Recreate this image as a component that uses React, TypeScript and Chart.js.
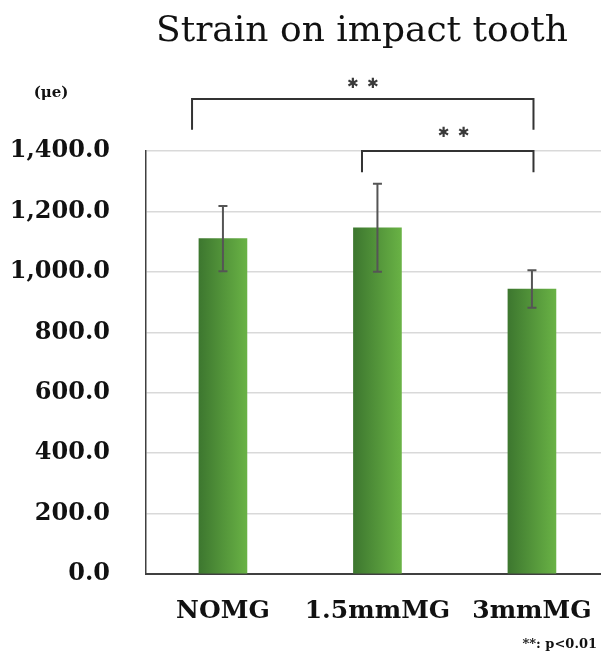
import { useEffect, useRef } from "react";
import { Chart, registerables } from "chart.js";

Chart.register(...registerables);

const categories = ["NOMG", "1.5mmMG", "3mmMG"];
const means = [1110, 1146, 943];
const errors = [108, 146, 62];
const yMin = 0;
const yMax = 1400;
const yStep = 200;
const titleText = "Strain on impact tooth";
const unitText = "(μe)";
const footnoteText = "**: p<0.01";

const SERIF = "'DejaVu Serif', 'Liberation Serif', serif";

const overlayPlugin = {
  id: "overlay",
  beforeDatasetsDraw(chart: any) {
    const { ctx } = chart;
    const meta = chart.getDatasetMeta(0);
    meta.data.forEach((el: any) => {
      const half = (el.width || 48) / 2;
      if (!isFinite(el.x)) return;
      const g = ctx.createLinearGradient(el.x - half, 0, el.x + half, 0);
      g.addColorStop(0, "#3d772f");
      g.addColorStop(1, "#69b245");
      el.options = { ...el.options, backgroundColor: g };
    });
  },
  afterDatasetsDraw(chart: any) {
    const { ctx } = chart;
    const xs = chart.scales.x;
    const ys = chart.scales.y;
    ctx.save();
    ctx.strokeStyle = "#555555";
    ctx.lineWidth = 2;
    means.forEach((m, i) => {
      const x = xs.getPixelForValue(i);
      const top = ys.getPixelForValue(m + errors[i]);
      const bot = ys.getPixelForValue(m - errors[i]);
      ctx.beginPath();
      ctx.moveTo(x, top);
      ctx.lineTo(x, bot);
      ctx.moveTo(x - 4.5, top);
      ctx.lineTo(x + 4.5, top);
      ctx.moveTo(x - 4.5, bot);
      ctx.lineTo(x + 4.5, bot);
      ctx.stroke();
    });
    ctx.restore();
  },
  afterDraw(chart: any) {
    const { ctx } = chart;
    const xs = chart.scales.x;
    const ys = chart.scales.y;
    ctx.save();
    // title
    ctx.fillStyle = "#111111";
    ctx.font = `36px ${SERIF}`;
    ctx.textAlign = "center";
    ctx.textBaseline = "alphabetic";
    ctx.fillText(titleText, 362, 41);
    // unit
    ctx.font = `bold 15px ${SERIF}`;
    ctx.textAlign = "center";
    ctx.textBaseline = "middle";
    ctx.fillText(unitText, 51, 93);
    // footnote
    ctx.font = `bold 13px ${SERIF}`;
    ctx.textAlign = "right";
    ctx.fillText(footnoteText, 597, 645);

    // significance brackets
    const brackets = [
      { from: -0.2, to: 2.01, top: 1572, leg: 1470, star: 1622 },
      { from: 0.9, to: 2.01, top: 1400, leg: 1330, star: 1460 },
    ];
    ctx.strokeStyle = "#333333";
    ctx.lineWidth = 2;
    brackets.forEach((b) => {
      const x1 = xs.getPixelForValue(b.from);
      const x2 = xs.getPixelForValue(b.to);
      const yt = ys.getPixelForValue(b.top);
      const yl = ys.getPixelForValue(b.leg);
      ctx.beginPath();
      ctx.moveTo(x1, yl);
      ctx.lineTo(x1, yt);
      ctx.lineTo(x2, yt);
      ctx.lineTo(x2, yl);
      ctx.stroke();
      const cx = (x1 + x2) / 2 + (b.from > 0 ? 6 : 0);
      const sy = ys.getPixelForValue(b.star);
      ctx.fillStyle = "#3a3a3a";
      ctx.font = "14px 'DejaVu Sans', sans-serif";
      ctx.textAlign = "center";
      ctx.textBaseline = "middle";
      ctx.fillText("✱", cx - 10, sy);
      ctx.fillText("✱", cx + 10, sy);
    });
    ctx.restore();
  },
};

export default function App() {
  const ref = useRef<HTMLCanvasElement | null>(null);

  useEffect(() => {
    if (!ref.current) return;
    const chart = new Chart(ref.current, {
      type: "bar",
      data: {
        datasets: [
          {
            data: means.map((m, i) => ({ x: i, y: m })),
            barThickness: 48,
            backgroundColor: categories.map(() => "#55993c"),
            borderWidth: 0,
          },
        ],
      },
      options: {
        responsive: false,
        animation: false,
        layout: { padding: { top: 151, right: 0, bottom: 0, left: 0 } },
        plugins: {
          legend: { display: false },
          tooltip: { enabled: false },
          title: { display: false },
        },
        scales: {
          x: {
            type: "linear",
            offset: false,
            min: -0.498,
            max: 2.447,
            afterFit: (s: any) => {
              s.height = 82;
              s.paddingLeft = 0;
              s.paddingRight = 0;
            },
            afterBuildTicks: (s: any) => {
              s.ticks = categories.map((_, i) => ({ value: i }));
            },
            grid: { display: false, drawTicks: false },
            border: { display: true, color: "#404040", width: 2 },
            ticks: {
              autoSkip: false,
              maxRotation: 0,
              padding: 22,
              color: "#111111",
              font: { family: SERIF, size: 25, weight: "bold" },
              callback: (v: any) => categories[v] ?? "",
            },
          },
          y: {
            min: yMin,
            max: yMax,
            afterFit: (s: any) => {
              s.width = 146;
            },
            grid: {
              color: (c: any) => (c.tick && c.tick.value === 0 ? "rgba(0,0,0,0)" : "#d9d9d9"),
              lineWidth: 1.5,
              drawTicks: false,
            },
            border: { display: true, color: "#404040", width: 1.5 },
            ticks: {
              stepSize: yStep,
              padding: 36,
              color: "#111111",
              font: { family: SERIF, size: 24, weight: "bold" },
              callback: (v: any) =>
                Number(v).toLocaleString("en-US", {
                  minimumFractionDigits: 1,
                  maximumFractionDigits: 1,
                }),
            },
          },
        },
      },
      plugins: [overlayPlugin],
    } as any);
    return () => chart.destroy();
  }, []);

  return (
    <div style={{ position: "fixed", left: 0, top: 0, width: 601, height: 656, background: "#fff" }}>
      <canvas ref={ref} width={601} height={656} />
    </div>
  );
}
